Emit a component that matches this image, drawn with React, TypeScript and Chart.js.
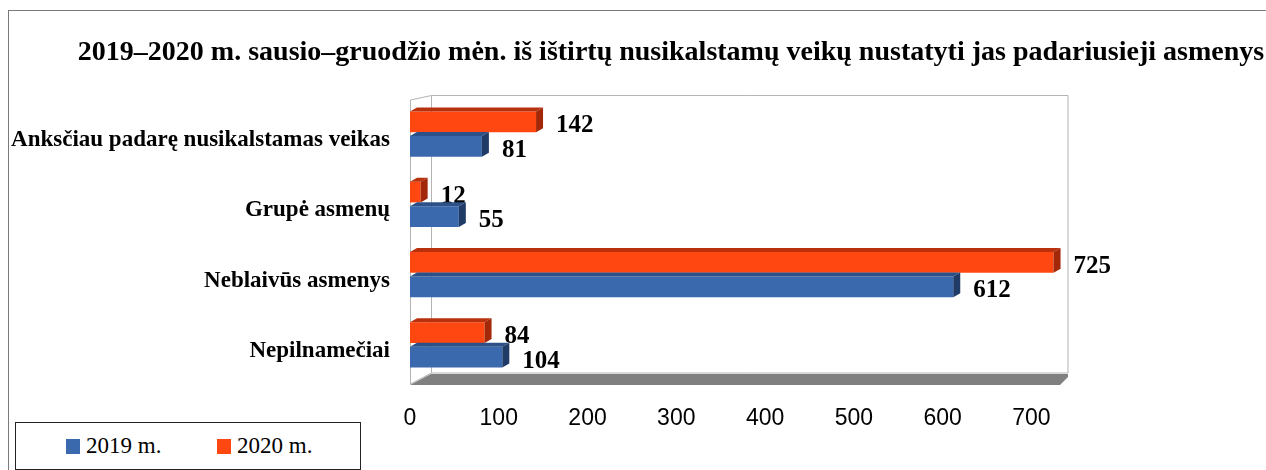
import React, { useEffect, useRef } from 'react';
import { Chart, registerables } from 'chart.js';

Chart.register(...registerables);

const titleText =
  '2019–2020 m. sausio–gruodžio mėn. iš ištirtų nusikalstamų veikų nustatyti jas padariusieji asmenys';
const categories = [
  'Anksčiau padarę nusikalstamas veikas',
  'Grupė asmenų',
  'Neblaivūs asmenys',
  'Nepilnamečiai',
];
const seriesLabels = ['2019 m.', '2020 m.'];
const values2019 = [81, 55, 612, 104];
const values2020 = [142, 12, 725, 84];
const xTickValues = [0, 100, 200, 300, 400, 500, 600, 700];
const xMax = 730;

const COLORS = {
  blue: '#3b69ad',
  blueSide: '#1f3b66',
  blueTop: '#2c5189',
  orange: '#ff4712',
  orangeSide: '#a3280a',
  orangeTop: '#b8310c',
};

const SERIF = '"Liberation Serif", "Times New Roman", serif';

const scenePlugin = {
  id: 'scene3d',
  beforeDatasetsDraw(chart: any) {
    const { ctx, chartArea } = chart;
    const L = chartArea.left;
    const R = chartArea.right;
    const T = chartArea.top;
    const B = chartArea.bottom;
    ctx.save();
    // back wall
    ctx.fillStyle = '#ffffff';
    ctx.strokeStyle = '#b4b4b4';
    ctx.lineWidth = 1;
    ctx.beginPath();
    ctx.rect(L + 21.5, T - 3.5, R + 10 - (L + 21.5), B - 7 - (T - 3.5));
    ctx.fill();
    ctx.stroke();
    // left wall
    ctx.beginPath();
    ctx.moveTo(L + 0.5, T + 1);
    ctx.lineTo(L + 21.5, T - 3.5);
    ctx.lineTo(L + 21.5, B - 7);
    ctx.lineTo(L + 0.5, B + 4);
    ctx.closePath();
    ctx.fill();
    ctx.stroke();
    // floor
    ctx.fillStyle = '#808080';
    ctx.beginPath();
    ctx.moveTo(L, B + 5);
    ctx.lineTo(L + 21, B - 6);
    ctx.lineTo(R + 10, B - 6);
    ctx.lineTo(R + 10, B - 3);
    ctx.lineTo(R + 2, B + 5);
    ctx.closePath();
    ctx.fill();
    ctx.restore();
  },
  afterDatasetsDraw(chart: any) {
    const { ctx } = chart;
    const d = 7;
    const dy = 4;
    ctx.save();
    chart.data.datasets.forEach((ds: any, di: number) => {
      const meta = chart.getDatasetMeta(di);
      const isOrange = di === 0;
      meta.data.forEach((el: any, i: number) => {
        const p = el.getProps(['x', 'y', 'base', 'height'], true);
        const top = p.y - p.height / 2;
        const bottom = p.y + p.height / 2;
        const x0 = p.base;
        const x1 = p.x;
        // top face
        ctx.fillStyle = isOrange ? COLORS.orangeTop : COLORS.blueTop;
        ctx.beginPath();
        ctx.moveTo(x0, top);
        ctx.lineTo(x0 + d, top - dy);
        ctx.lineTo(x1 + d, top - dy);
        ctx.lineTo(x1, top);
        ctx.closePath();
        ctx.fill();
        // side face
        ctx.fillStyle = isOrange ? COLORS.orangeSide : COLORS.blueSide;
        ctx.beginPath();
        ctx.moveTo(x1, top);
        ctx.lineTo(x1 + d, top - dy);
        ctx.lineTo(x1 + d, bottom - dy);
        ctx.lineTo(x1, bottom);
        ctx.closePath();
        ctx.fill();
        // value label
        ctx.fillStyle = '#000000';
        ctx.font = 'bold 25px ' + SERIF;
        ctx.textAlign = 'left';
        ctx.textBaseline = 'middle';
        ctx.fillText(String(ds.data[i]), x1 + 20, p.y + 4);
      });
    });
    ctx.restore();
  },
  afterDraw(chart: any) {
    const { ctx } = chart;
    ctx.save();
    ctx.fillStyle = '#000000';
    ctx.font = 'bold 28px ' + SERIF;
    ctx.textAlign = 'center';
    ctx.textBaseline = 'middle';
    ctx.fillText(titleText, 671, 53);
    ctx.restore();
  },
};

export default function App() {
  const canvasRef = useRef<HTMLCanvasElement | null>(null);

  useEffect(() => {
    if (!canvasRef.current) return;
    const chart = new Chart(canvasRef.current, {
      type: 'bar',
      data: {
        labels: categories,
        datasets: [
          {
            label: seriesLabels[1],
            data: values2020,
            backgroundColor: COLORS.orange,
            categoryPercentage: 0.7,
            barPercentage: 0.84,
          },
          {
            label: seriesLabels[0],
            data: values2019,
            backgroundColor: COLORS.blue,
            categoryPercentage: 0.7,
            barPercentage: 0.84,
          },
        ],
      },
      options: {
        indexAxis: 'y',
        animation: false,
        responsive: false,
        events: [],
        layout: { padding: { top: 99, right: 208, bottom: 0, left: 10 } },
        plugins: {
          legend: { display: false },
          title: { display: false },
          tooltip: { enabled: false },
        },
        scales: {
          x: {
            type: 'linear',
            min: 0,
            max: xMax,
            grid: { display: false },
            border: { display: false },
            afterFit: (s: any) => {
              s.height = 90;
            },
            afterBuildTicks: (s: any) => {
              s.ticks = xTickValues.map((v) => ({ value: v }));
            },
            ticks: {
              padding: 17,
              color: '#000000',
              font: { family: '"Liberation Sans", Arial, sans-serif', size: 23 },
            },
          },
          y: {
            type: 'category',
            grid: { display: false },
            border: { display: false },
            afterFit: (s: any) => {
              s.width = 400;
            },
            ticks: {
              padding: 12,
              labelOffset: 6,
              color: '#000000',
              font: { family: SERIF, size: 23, weight: 'bold' },
            },
          },
        },
      },
      plugins: [scenePlugin],
    });
    return () => chart.destroy();
  }, []);

  const legendItem = (color: string, text: string, left: number) => (
    <div
      style={{
        position: 'absolute',
        left,
        top: 0,
        height: 46,
        display: 'flex',
        alignItems: 'center',
      }}
    >
      <span
        style={{
          display: 'inline-block',
          width: 14,
          height: 15,
          background: color,
          marginRight: 6,
        }}
      />
      <span style={{ fontFamily: SERIF, fontSize: 23, color: '#000', lineHeight: '46px' }}>
        {text}
      </span>
    </div>
  );

  return (
    <div
      style={{
        position: 'fixed',
        left: 0,
        top: 0,
        width: 1266,
        height: 470,
        overflow: 'hidden',
        background: '#ffffff',
      }}
    >
      <div
        style={{
          position: 'absolute',
          left: 8,
          top: 10,
          width: 1300,
          height: 500,
          border: '1px solid #7a7a7a',
        }}
      />
      <canvas
        ref={canvasRef}
        width={1266}
        height={470}
        style={{ position: 'absolute', left: 0, top: 0, width: 1266, height: 470 }}
      />
      <div
        style={{
          position: 'absolute',
          left: 15,
          top: 422,
          width: 344,
          height: 46,
          border: '1px solid #222',
          background: '#fff',
        }}
      >
        {legendItem(COLORS.blue, seriesLabels[0], 50)}
        {legendItem(COLORS.orange, seriesLabels[1], 201)}
      </div>
    </div>
  );
}
